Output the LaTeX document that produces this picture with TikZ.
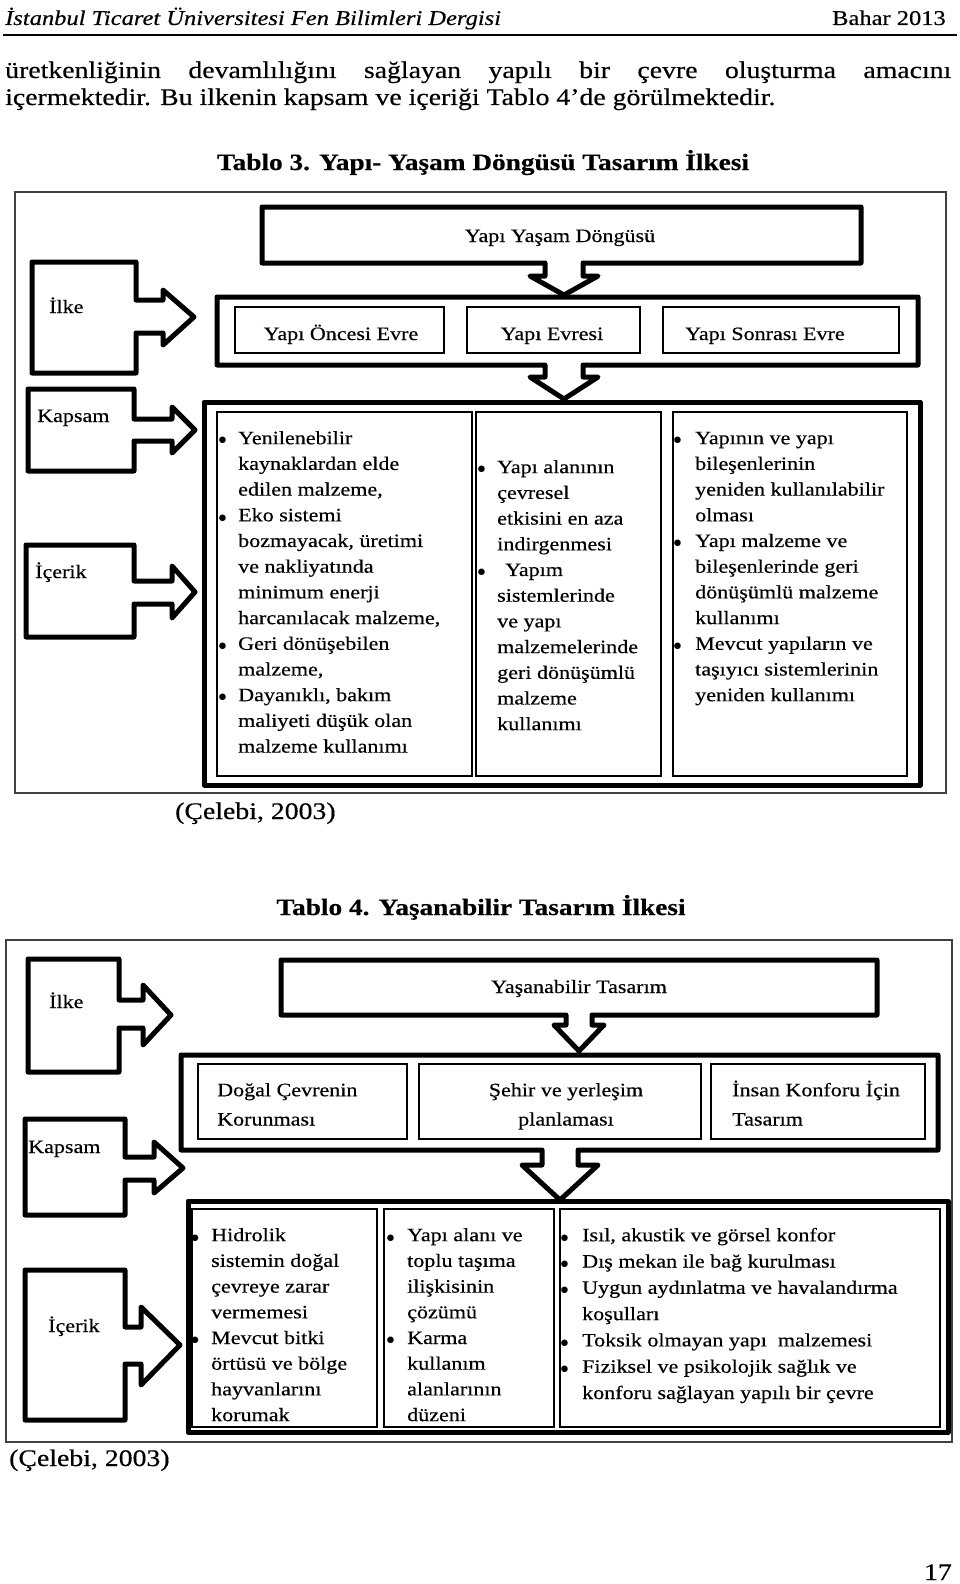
\documentclass[tikz,border=0pt]{standalone}
\usepackage{fontspec}
\setmainfont{Liberation Serif}[FakeStretch=1.167, FakeBold=0.4]
\newfontfamily\dvs{DejaVu Sans}
\newcommand\tabf{\fontsize{18.9}{25.7}\selectfont}
\newcommand\tabg{\fontsize{18.9}{26.3}\selectfont}
\newcommand\tabh{\fontsize{18.9}{29.3}\selectfont}
\newcommand\bodyf{\fontsize{23.8}{26}\selectfont}
\newcommand\titf{\fontsize{23.4}{28}\selectfont\bfseries}
\newcommand\headf{\fontsize{21}{24}\selectfont}
\newcommand\bul[1]{\llap{\raisebox{1.2pt}{\dvs\fontsize{8.5}{8.5}\selectfont ●}\hspace{#1pt}}}
\begin{document}
\begin{tikzpicture}[x=1pt,y=-1pt,
  thickline/.style={line width=5pt, line join=round},
  thinbox/.style={line width=2.5pt},
  frame/.style={line width=1.8pt, draw=black!75},
  lbl/.style={inner sep=0, font=\tabf},
  lst/.style={anchor=north west, inner sep=0, align=left, font=\tabf},
  body/.style={inner sep=0, font=\bodyf}]
\useasboundingbox (0,0) rectangle (960,1584);
\fill[white] (0,0) rectangle (960,1584);

% header
\node[anchor=base west, inner sep=0, font=\headf\itshape] (hdr) at (5,25) {İstanbul Ticaret Üniversitesi Fen Bilimleri Dergisi};
\node[anchor=base east, inner sep=0, font=\headf] (hdry) at (946,25) {Bahar 2013};
\coordinate (rl) at (3,35);
\coordinate (rr) at (957,35);
\draw[line width=2.5pt] (rl) -- (rr);

% body
\node[anchor=base west, body] (par1) at (5,78) {\makebox[946pt][s]{üretkenliğinin devamlılığını sağlayan yapılı bir çevre oluşturma amacını}};
\node[anchor=base west, body] (par2) at (5,105) {içermektedir. Bu ilkenin kapsam ve içeriği Tablo 4’de görülmektedir.};

% ================= Table 3
\node[anchor=base, inner sep=0, font=\titf] (t3) at (483,170) {Tablo 3. Yapı- Yaşam Döngüsü Tasarım İlkesi};
\draw[frame] (15,192) rectangle (946,793);

% top box with down arrow
\draw[thickline] (262,207) -- (861,207) -- (861,263) -- (583,263) -- (583,276) -- (598,276) -- (564,295)
  -- (530,276) -- (545,276) -- (545,263) -- (262,263) -- cycle;
\node[anchor=base, lbl] (yyd) at (560,242) {Yapı Yaşam Döngüsü};

% phase box with down arrow
\draw[thickline] (217,297) -- (918,297) -- (918,365) -- (583,365) -- (583,377) -- (598,377) -- (564,399)
  -- (530,377) -- (545,377) -- (545,365) -- (217,365) -- cycle;
\draw[thinbox] (235,307) rectangle (444,353);
\draw[thinbox] (467,307) rectangle (640,353);
\draw[thinbox] (663,307) rectangle (899,353);
\node[anchor=base, lbl] (ph1) at (341,340) {Yapı Öncesi Evre};
\node[anchor=base, lbl] (ph2) at (552,340) {Yapı Evresi};
\node[anchor=base west, lbl] (ph3) at (685,340) {Yapı Sonrası Evre};

% content box
\draw[thickline] (204,402) rectangle (920,785);
\draw[thinbox] (217,412) rectangle (472,776);
\draw[thinbox] (476,412) rectangle (661,776);
\draw[thinbox] (673,412) rectangle (907,776);

\node[lst] (c31) at (238,426) {\strut\bul{11.8}Yenilenebilir\\kaynaklardan elde\\edilen malzeme,\\\bul{11.8}Eko sistemi\\bozmayacak, üretimi\\ve nakliyatında\\minimum enerji\\harcanılacak malzeme,\\\bul{11.8}Geri dönüşebilen\\malzeme,\\\bul{11.8}Dayanıklı, bakım\\maliyeti düşük olan\\malzeme kullanımı};
\node[lst] (c32) at (497,455) {\strut\bul{11.8}Yapı alanının\\çevresel\\etkisini en aza\\indirgenmesi\\\bul{11.8}\hspace*{8pt}Yapım\\sistemlerinde\\ve yapı\\malzemelerinde\\geri dönüşümlü\\malzeme\\kullanımı};
\node[lst] (c33) at (695,426) {\strut\bul{13.8}Yapının ve yapı\\bileşenlerinin\\yeniden kullanılabilir\\olması\\\bul{13.8}Yapı malzeme ve\\bileşenlerinde geri\\dönüşümlü malzeme\\kullanımı\\\bul{13.8}Mevcut yapıların ve\\taşıyıcı sistemlerinin\\yeniden kullanımı};

% left label boxes
\draw[thickline] (32,262) -- (136,262) -- (136,300) -- (163,300) -- (163,290) -- (194,317) -- (163,345)
  -- (163,333) -- (136,333) -- (136,373) -- (32,373) -- cycle;
\node[anchor=base west, lbl] (ilke3) at (49,313) {İlke};
\draw[thickline] (28,389) -- (134,389) -- (134,419) -- (172,419) -- (172,407) -- (195,430) -- (172,453)
  -- (172,441) -- (134,441) -- (134,471) -- (28,471) -- cycle;
\node[anchor=base west, lbl] (kap3) at (37,422) {Kapsam};
\draw[thickline] (26,545) -- (134,545) -- (134,581) -- (172,581) -- (172,566) -- (195,592) -- (172,618)
  -- (172,604) -- (134,604) -- (134,637) -- (26,637) -- cycle;
\node[anchor=base west, lbl] (ice3) at (35,578) {İçerik};

\node[anchor=base west, body] (cit3) at (175,819) {(Çelebi, 2003)};

% ================= Table 4
\node[anchor=base, inner sep=0, font=\titf] (t4) at (481,915) {Tablo 4. Yaşanabilir Tasarım İlkesi};
\draw[frame] (6,940) rectangle (952,1442);

\draw[thickline] (281,960) -- (877,960) -- (877,1015) -- (592,1015) -- (592,1025) -- (604,1025) -- (579,1051)
  -- (554,1025) -- (566,1025) -- (566,1015) -- (281,1015) -- cycle;
\node[anchor=base, lbl] (yt) at (579,993) {Yaşanabilir Tasarım};

\draw[thickline] (181,1055) -- (938,1055) -- (938,1150) -- (578,1150) -- (578,1165) -- (598,1165) -- (560,1200)
  -- (522,1165) -- (542,1165) -- (542,1150) -- (181,1150) -- cycle;
\draw[thinbox] (198,1064) rectangle (407,1139);
\draw[thinbox] (419,1064) rectangle (701,1139);
\draw[thinbox] (711,1064) rectangle (925,1139);
\node[anchor=north west, inner sep=0, align=left, font=\tabh] (q1) at (217,1075.5) {\strut Doğal Çevrenin\\Korunması};
\node[anchor=north, inner sep=0, align=center, font=\tabh] (q2) at (566,1075.5) {\strut Şehir ve yerleşim\\planlaması};
\node[anchor=north west, inner sep=0, align=left, font=\tabh] (q3) at (732,1075.5) {\strut İnsan Konforu İçin\\Tasarım};

\draw[thickline] (188,1201) rectangle (948,1432);
\draw[thinbox] (192,1209) rectangle (377,1427);
\draw[thinbox] (384,1209) rectangle (554,1427);
\draw[thinbox] (560,1209) rectangle (940,1427);

\node[lst] (c41) at (211,1223) {\strut\bul{12.3}Hidrolik\\sistemin doğal\\çevreye zarar\\vermemesi\\\bul{12.3}Mevcut bitki\\örtüsü ve bölge\\hayvanlarını\\korumak};
\node[lst] (c42) at (407,1223) {\strut\bul{12.8}Yapı alanı ve\\toplu taşıma\\ilişkisinin\\çözümü\\\bul{12.8}Karma\\kullanım\\alanlarının\\düzeni};
\node[lst, font=\tabg] (c43) at (582,1222.6) {\strut\bul{13.8}Isıl, akustik ve görsel konfor\\\bul{13.8}Dış mekan ile bağ kurulması\\\bul{13.8}Uygun aydınlatma ve havalandırma\\koşulları\\\bul{13.8}Toksik olmayan yapı~ malzemesi\\\bul{13.8}Fiziksel ve psikolojik sağlık ve\\konforu sağlayan yapılı bir çevre};

\draw[thickline] (28,959) -- (119,959) -- (119,1000) -- (143,1000) -- (143,985) -- (171,1015) -- (143,1045)
  -- (143,1028) -- (119,1028) -- (119,1072) -- (28,1072) -- cycle;
\node[anchor=base west, lbl] (ilke4) at (49,1008) {İlke};
\draw[thickline] (25,1119) -- (125,1119) -- (125,1157) -- (154,1157) -- (154,1142) -- (183,1168) -- (154,1193)
  -- (154,1180) -- (125,1180) -- (125,1215) -- (25,1215) -- cycle;
\node[anchor=base west, lbl] (kap4) at (28,1153) {Kapsam};
\draw[thickline] (25,1270) -- (125,1270) -- (125,1327) -- (141,1327) -- (141,1307) -- (180,1345) -- (141,1385)
  -- (141,1364) -- (125,1364) -- (125,1420) -- (25,1420) -- cycle;
\node[anchor=base west, lbl] (ice4) at (48,1332) {İçerik};

\node[anchor=base west, body] (cit4) at (9,1466) {(Çelebi, 2003)};
\node[anchor=base east, body] (pg) at (952,1580) {17};
\end{tikzpicture}
\end{document}
